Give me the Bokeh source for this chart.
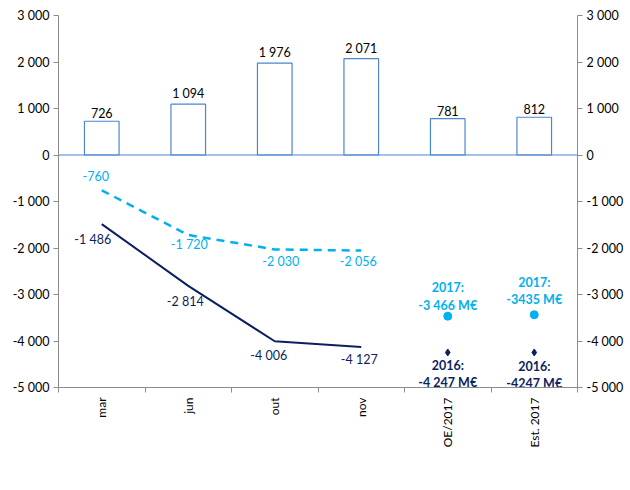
import math
from bokeh.plotting import figure
from bokeh.models import (Range1d, LinearAxis, FixedTicker, Span, Legend, LegendItem)
from bokeh.core.properties import value
from bokeh.embed import file_html
from bokeh.resources import INLINE

categories = ["mar", "jun", "out", "nov", "OE/2017", "Est. 2017"]
var_homologa = [726, 1094, 1976, 2071, 781, 812]
y2016 = [-1486, -2814, -4006, -4127]
y2017 = [-760, -1720, -2030, -2056]
proj_2017 = [-3466, -3435]
proj_2016 = [-4247, -4247]
proj_2017_labels = ["-3 466 M€", "-3435 M€"]
proj_2016_labels = ["-4 247 M€", "-4247 M€"]
y_ticks = [-5000, -4000, -3000, -2000, -1000, 0, 1000, 2000, 3000]


def fmt(v):
    return f"{v:,}".replace(",", " ")


FONT = "Lato"
NAVY = "#0c1f5e"
LIGHT = "#00b0f0"
BARC = "#4a86d0"
AXC = "#8c8c8c"

xs = list(range(1, len(categories) + 1))

p = figure(frame_width=519, frame_height=372, x_range=Range1d(0.5, 6.5), y_range=Range1d(-5000, 3000),
           output_backend="svg", toolbar_location=None, x_axis_type=None, y_axis_type=None,
           min_border_left=58, min_border_right=45, min_border_top=15, min_border_bottom=0)
p.outline_line_color = None
p.grid.visible = False
p.extra_y_ranges = {"right": Range1d(-5000, 3000)}

overrides = {t: fmt(t) for t in y_ticks}
yl = LinearAxis(ticker=FixedTicker(ticks=y_ticks), major_label_overrides=overrides)
yr = LinearAxis(ticker=FixedTicker(ticks=y_ticks), major_label_overrides=overrides, y_range_name="right")
for ax in (yl, yr):
    ax.axis_line_color = AXC
    ax.major_tick_line_color = AXC
    ax.major_tick_out = 5
    ax.major_tick_in = 0
    ax.minor_tick_line_color = None
    ax.major_label_text_font = FONT
    ax.major_label_text_font_size = "12.5px"
    ax.major_label_text_color = "#000000"
    ax.major_label_standoff = 4
p.add_layout(yl, "left")
p.add_layout(yr, "right")

xa = LinearAxis(ticker=FixedTicker(ticks=xs, minor_ticks=[x - 0.5 for x in xs] + [len(xs) + 0.5]),
                major_label_overrides={x: c for x, c in zip(xs, categories)})
xa.axis_line_color = AXC
xa.major_tick_line_color = None
xa.minor_tick_line_color = AXC
xa.minor_tick_out = 5
xa.minor_tick_in = 0
xa.major_label_orientation = math.pi / 2
xa.major_label_text_font = FONT
xa.major_label_text_font_size = "12px"
xa.major_label_text_color = "#000000"
xa.major_label_standoff = 4
p.add_layout(xa, "below")

p.add_layout(Span(location=0, dimension="width", line_color=BARC, line_width=1.2))

bars = p.vbar(x=xs, top=var_homologa, bottom=0, width=0.4, fill_color="white",
              line_color=BARC, line_width=1.2, y_range_name="right")
p.text(x=xs, y=var_homologa, text=[fmt(v) for v in var_homologa], y_range_name="right",
       text_align="center", text_baseline="bottom", y_offset=-3,
       text_font=value(FONT), text_font_size="12.5px", text_color="#000000")

l16 = p.line(x=xs[:4], y=y2016, line_color=NAVY, line_width=2)
l17 = p.line(x=xs[:4], y=y2017, line_color=LIGHT, line_width=2.5, line_dash="8 6")

# data labels
p.text(x=xs[:4], y=y2016, text=[fmt(v) for v in y2016], text_align="center", text_baseline="middle",
       x_offset=[-9, -3, -6, -2], y_offset=[15, 16, 14, 13],
       text_font=value(FONT), text_font_size="12.5px", text_color=NAVY)
p.text(x=xs[:4], y=y2017, text=[fmt(v) for v in y2017], text_align="center", text_baseline="middle",
       x_offset=[-6, 1, 6, -3], y_offset=[-14, 10, 12, 11],
       text_font=value(FONT), text_font_size="12.5px", text_color=LIGHT)

# projections
p.scatter(x=xs[4:], y=proj_2017, marker="circle", size=8, fill_color=LIGHT, line_color=LIGHT)
p.scatter(x=xs[4:], y=proj_2016, marker="diamond", size=7, fill_color=NAVY, line_color=NAVY)
p.text(x=xs[4:], y=proj_2017, text=["2017:", "2017:"], text_align="center", text_baseline="middle",
       y_offset=[-29, -32], text_font=value(FONT), text_font_size="12.5px", text_font_style="bold",
       text_color=LIGHT)
p.text(x=xs[4:], y=proj_2017, text=proj_2017_labels, text_align="center", text_baseline="middle",
       y_offset=[-11, -15], text_font=value(FONT), text_font_size="12.5px", text_font_style="bold",
       text_color=LIGHT)
p.text(x=xs[4:], y=proj_2016, text=["2016:", "2016:"], text_align="center", text_baseline="middle",
       y_offset=[13, 14], text_font=value(FONT), text_font_size="12.5px", text_font_style="bold",
       text_color=NAVY)
p.text(x=xs[4:], y=proj_2016, text=proj_2016_labels, text_align="center", text_baseline="middle",
       y_offset=[30, 31], text_font=value(FONT), text_font_size="12.5px", text_font_style="bold",
       text_color=NAVY)

legend = Legend(items=[LegendItem(label="Variação hómologa (direita)", renderers=[bars]),
                       LegendItem(label="2016 (esquerda)", renderers=[l16]),
                       LegendItem(label="2017 (esquerda)", renderers=[l17])],
                orientation="horizontal", location="center",
                label_text_font=FONT, label_text_font_size="15px", label_text_color="#000000",
                border_line_color=None, background_fill_alpha=0, glyph_width=34, glyph_height=14,
                spacing=18, padding=0, margin=0, label_standoff=6, label_height=16)
p.add_layout(legend, "below")

open("out.html", "w").write(file_html(p, INLINE))
